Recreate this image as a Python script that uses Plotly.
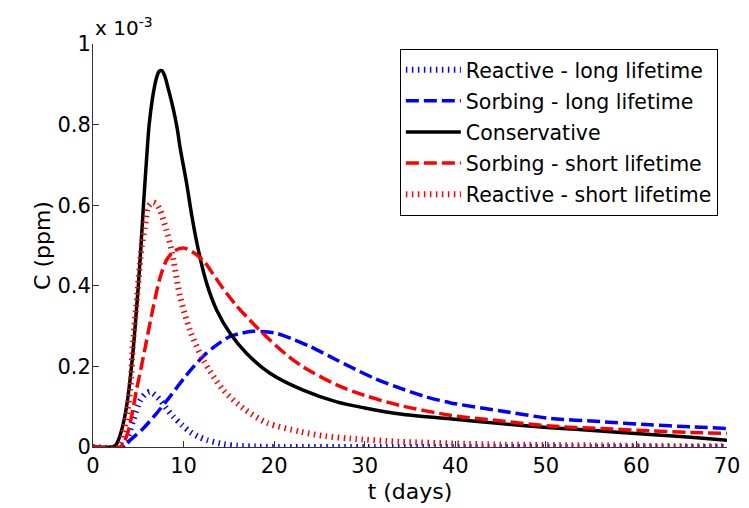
import plotly.graph_objects as go

# Concentrations in units of 1e-3 ppm, time in days
t_cons = [0, 2.0, 2.5, 2.8, 3.2, 3.7, 4.3, 5.0, 5.3, 5.6, 5.9, 6.2, 6.6, 7.0, 7.3, 7.6, 7.9, 8.3, 8.8, 9.3,
          9.6, 10.34, 10.9, 11.63, 12.55, 13.65, 15.13, 16.97, 19.54, 23.2, 26.9, 30.0, 33.9, 39.4,
          45.0, 50.5, 56.0, 61.5, 66.0, 70.0]
c_cons = [0, 0, 0.004, 0.017, 0.045, 0.10, 0.21, 0.40, 0.50, 0.61, 0.71, 0.80, 0.87, 0.915, 0.932, 0.934,
          0.922, 0.89, 0.845, 0.79, 0.745, 0.654, 0.575, 0.489, 0.406, 0.34, 0.282, 0.232, 0.183, 0.141,
          0.112, 0.097, 0.082, 0.070, 0.058, 0.048, 0.040, 0.031, 0.024, 0.017]

t_sorb_short = [0, 3.0, 3.7, 4.2, 4.8, 5.56, 6.66, 7.4, 8.13, 9.0, 10.0, 11.0, 12.2, 13.3, 14.4, 15.8,
                17.3, 19.5, 21.3, 23.2, 26.9, 30.0, 33.9, 39.4, 44.9, 50.5, 56.0, 61.5, 66.0, 70.0]
c_sorb_short = [0, 0, 0.026, 0.07, 0.141, 0.224, 0.348, 0.42, 0.464, 0.487, 0.494, 0.484, 0.462, 0.428,
                0.392, 0.352, 0.315, 0.266, 0.23, 0.199, 0.154, 0.128, 0.103, 0.079, 0.065, 0.052, 0.046,
                0.040, 0.036, 0.034]

t_sorb_long = [0, 3.3, 4.1, 5.5, 7.0, 8.5, 10.3, 12.2, 13.6, 15.1, 16.5, 17.7, 19.0, 20.3, 22.0, 24.0,
               26.9, 28.4, 31.1, 33.9, 36.7, 39.4, 44.9, 50.5, 56.0, 61.5, 66.0, 70.0]
c_sorb_long = [0, 0, 0.017, 0.045, 0.083, 0.125, 0.178, 0.226, 0.252, 0.274, 0.283, 0.287, 0.286, 0.282,
               0.268, 0.249, 0.216, 0.199, 0.170, 0.146, 0.125, 0.110, 0.090, 0.071, 0.063, 0.055, 0.050,
               0.046]

t_react_long = [0, 3.0, 3.7, 4.45, 5.2, 5.8, 6.3, 6.8, 7.4, 8.1, 8.87, 9.8, 10.7, 11.6, 12.6, 14.4, 16.0,
                18.0, 20.0, 30.0, 40.0, 50.0, 60.0, 70.0]
c_react_long = [0, 0, 0.017, 0.067, 0.115, 0.132, 0.137, 0.130, 0.117, 0.096, 0.075, 0.055, 0.038, 0.026,
                0.017, 0.007, 0.003, 0.001, 0, 0, 0, 0, 0, 0]

t_react_short = [0, 2.8, 3.35, 3.8, 4.1, 4.45, 4.9, 5.37, 5.74, 6.1, 6.6, 7.0, 7.4, 8.1, 8.7, 9.6, 10.7,
                 12.2, 14.4, 16.6, 19.2, 22.9, 25.6, 28.4, 33.9, 39.4, 45.0, 50.0, 55.0, 60.0, 65.0, 70.0]
c_react_short = [0, 0, 0.034, 0.09, 0.141, 0.266, 0.38, 0.497, 0.547, 0.596, 0.607, 0.603, 0.588, 0.538,
                 0.485, 0.375, 0.29, 0.215, 0.141, 0.096, 0.060, 0.038, 0.027, 0.021, 0.013, 0.009, 0.006,
                 0.005, 0.004, 0.003, 0.002, 0.002]

x_ticks = [0, 10, 20, 30, 40, 50, 60, 70]
y_ticks = [0, 0.2, 0.4, 0.6, 0.8, 1.0]
y_ticktext = ["0", "0.2", "0.4", "0.6", "0.8", "1"]

FONT = "DejaVu Sans, Arial, sans-serif"

fig = go.Figure()
dot = "1.5px,4.5px"
dash = "13px,5px"
series = [
    ("Reactive - long lifetime", t_react_long, c_react_long, "#0000ff", dot, 6),
    ("Sorbing - long lifetime", t_sorb_long, c_sorb_long, "#0000ff", dash, 3.5),
    ("Conservative", t_cons, c_cons, "#000000", "solid", 3.5),
    ("Sorbing - short lifetime", t_sorb_short, c_sorb_short, "#ff0000", dash, 3.5),
    ("Reactive - short lifetime", t_react_short, c_react_short, "#ff0000", dot, 6),
]
for i, (name, tx, cy, col, ds, w) in enumerate(series):
    fig.add_trace(go.Scatter(
        x=tx, y=cy, mode="lines", name=name, legendgroup="g%d" % i,
        line=dict(color=col, dash=ds, width=w, shape="spline", smoothing=0.8),
        legendrank=i + 1,
    ))

fig.update_layout(
    width=749, height=508,
    margin=dict(l=93, r=22, t=44, b=61),
    paper_bgcolor="white", plot_bgcolor="white",
    font=dict(family=FONT, size=20, color="black"),
    legend=dict(
        x=0.484, y=0.988, xanchor="left", yanchor="top",
        bordercolor="black", borderwidth=1, bgcolor="white",
        font=dict(size=20.5), tracegroupgap=1.5, traceorder="grouped", itemwidth=55,
    ),
    xaxis=dict(
        range=[0, 70], tickvals=x_ticks, showgrid=False, zeroline=False, automargin=False,
        showline=True, linecolor="#333333", linewidth=1,
        ticks="inside", ticklen=6, tickcolor="#333333", tickfont=dict(size=21),
        title=dict(text="t (days)", font=dict(size=22), standoff=6),
    ),
    yaxis=dict(
        range=[0, 1.0], tickvals=y_ticks, ticktext=y_ticktext, showgrid=False, zeroline=False,
        automargin=False, showline=True, linecolor="#333333", linewidth=1,
        ticks="inside", ticklen=6, tickcolor="#333333", tickfont=dict(size=21),
        ticklabelstandoff=-3,
        title=dict(text="C (ppm)", font=dict(size=22), standoff=0),
    ),
    annotations=[dict(
        text="x 10<sup>-3</sup>", xref="paper", yref="paper", x=0.0, y=1.0 + 17 / 403,
        xanchor="left", yanchor="middle", showarrow=False, font=dict(size=20),
    )],
)

fig.write_html("out.html")
